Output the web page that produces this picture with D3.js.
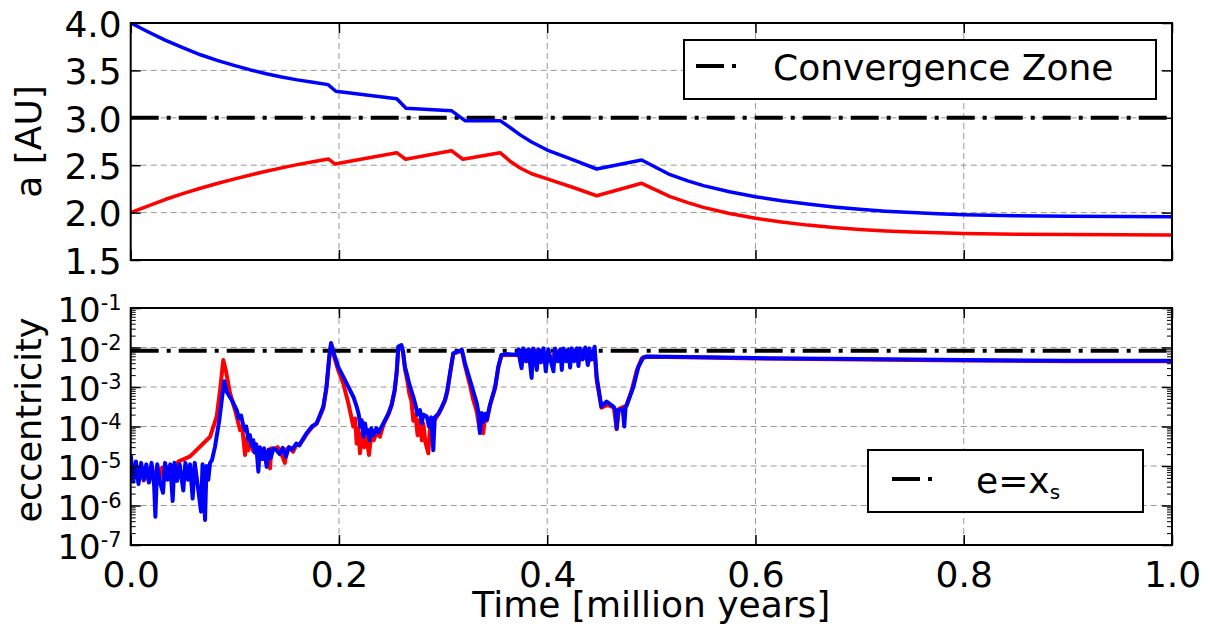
<!DOCTYPE html>
<html><head><meta charset="utf-8">
<script src="https://cdn.jsdelivr.net/npm/d3@7"></script>
<style>
body{margin:0;background:#fff;}
text{font-family:"DejaVu Sans",sans-serif;fill:#000;}
</style>
</head><body>
<svg id="chart" width="1213" height="632"></svg>
<script>
// ---------------- data ----------------
const xTickValues = [0.0, 0.2, 0.4, 0.6, 0.8, 1.0];
const aTickValues = [1.5, 2.0, 2.5, 3.0, 3.5, 4.0];
const eTickExponents = [-7, -6, -5, -4, -3, -2, -1];
const xLabel = "Time [million years]";
const aLabel = "a [AU]";
const eLabel = "eccentricity";
const convergenceA = 3.0;
const convergenceLabel = "Convergence Zone";
const eXs = 8.3e-3;

// semi-major axis, outer (blue) and inner (red) planet
const timeOuterA = [0, 0.017, 0.033, 0.05, 0.067, 0.083, 0.1, 0.115, 0.13, 0.145, 0.16, 0.175, 0.1895, 0.197, 0.2555, 0.2644, 0.308, 0.321, 0.3547, 0.364, 0.374, 0.385, 0.4, 0.425, 0.4475, 0.4907, 0.518, 0.535, 0.55, 0.575, 0.6, 0.625, 0.65, 0.675, 0.7, 0.725, 0.75, 0.775, 0.8, 0.85, 0.9, 1.0];
const aOuter     = [4.0, 3.905, 3.82, 3.74, 3.665, 3.605, 3.55, 3.505, 3.465, 3.43, 3.40, 3.375, 3.35, 3.28, 3.20, 3.10, 3.075, 2.97, 2.97, 2.90, 2.82, 2.745, 2.66, 2.555, 2.46, 2.555, 2.40, 2.335, 2.285, 2.22, 2.168, 2.125, 2.09, 2.06, 2.035, 2.015, 2.0, 1.988, 1.978, 1.967, 1.961, 1.957];
const timeInnerA = [0, 0.017, 0.033, 0.05, 0.067, 0.083, 0.1, 0.115, 0.13, 0.145, 0.16, 0.175, 0.19, 0.196, 0.2555, 0.264, 0.308, 0.319, 0.3547, 0.364, 0.374, 0.385, 0.4, 0.425, 0.4475, 0.4907, 0.518, 0.535, 0.55, 0.575, 0.6, 0.625, 0.65, 0.675, 0.7, 0.725, 0.75, 0.8, 0.85, 0.9, 1.0];
const aInner     = [2.0, 2.072, 2.138, 2.20, 2.257, 2.307, 2.356, 2.397, 2.436, 2.472, 2.506, 2.537, 2.565, 2.513, 2.632, 2.563, 2.653, 2.563, 2.632, 2.545, 2.47, 2.41, 2.355, 2.265, 2.178, 2.309, 2.168, 2.105, 2.055, 1.99, 1.94, 1.90, 1.868, 1.843, 1.823, 1.807, 1.795, 1.78, 1.772, 1.768, 1.765];

// eccentricity [time, e]
const eccInner = [
[0,1.0e-5],[0.0025,4.5e-6],[0.005,9e-6],[0.0075,4e-6],[0.01,9e-6],[0.0125,4.3e-6],[0.015,9e-6],[0.0175,4e-6],
[0.02,9e-6],[0.0225,4.2e-6],[0.025,9e-6],[0.0275,4.5e-6],[0.03,9e-6],[0.0325,4.5e-6],[0.035,9.5e-6],[0.0375,5e-6],
[0.04,1.0e-5],[0.0425,7e-6],[0.0457,1.3e-5],[0.05,1.45e-5],[0.057,1.75e-5],[0.0666,3.1e-5],[0.0762,5.5e-5],
[0.0826,1.8e-4],[0.0858,8.3e-4],[0.0889,4.8e-3],[0.0915,2.5e-3],[0.0954,7e-4],[0.1002,2.6e-4],[0.105,8.1e-5],
[0.107,1.0e-4],[0.1098,1.9e-5],[0.1115,5e-5],[0.113,2.5e-5],[0.1155,4.2e-5],[0.1177,2.4e-5],[0.12,3.6e-5],
[0.1226,2.0e-5],[0.125,2.5e-5],[0.128,1.5e-5],[0.1306,2.3e-5],[0.1338,8.7e-6],[0.135,2.8e-5],[0.138,2.7e-5],
[0.141,3.0e-5],[0.144,2.3e-5],[0.148,1.2e-5],[0.15,2.7e-5],[0.153,2.9e-5],[0.156,2.3e-5],[0.159,3.4e-5],
[0.162,3.5e-5],[0.165,4.4e-5],[0.169,6.5e-5],[0.174,9.5e-5],[0.1786,1.2e-4],[0.182,1.9e-4],[0.185,3.0e-4],
[0.188,9.5e-4],[0.1907,5.5e-3],[0.1924,1.2e-2],[0.1935,9.5e-3],[0.1952,6e-3],[0.1994,2.6e-3],[0.2042,1.2e-3],
[0.209,3.9e-4],[0.2138,1.0e-4],[0.2155,1.6e-4],[0.217,3.7e-5],[0.2185,9e-5],[0.2202,2.1e-5],[0.2225,7e-5],
[0.2245,3e-5],[0.2265,6e-5],[0.2288,1.9e-5],[0.231,6e-5],[0.2335,4.5e-5],[0.236,7e-5],[0.2394,5.5e-5],
[0.2426,1.1e-4],[0.2474,2.0e-4],[0.2505,3.4e-4],[0.2535,8e-4],[0.2555,2.4e-3],[0.257,1.0e-2],[0.26,1.1e-2],
[0.2615,7.5e-3],[0.2634,2.8e-3],[0.2655,1.5e-3],[0.2675,7e-4],[0.2695,4.5e-4],[0.2714,1.4e-4],[0.2735,2e-4],
[0.2755,6e-5],[0.2778,1.5e-4],[0.2795,4.5e-5],[0.281,1.2e-4],[0.283,4e-5],[0.2858,2.1e-5],[0.2875,1.0e-4],
[0.2895,1.2e-4],[0.292,1.5e-4],[0.2954,2.0e-4],[0.2985,2.9e-4],[0.3018,4.5e-4],[0.304,7.5e-4],[0.3066,2.1e-3],
[0.3098,7e-3],[0.3146,7.8e-3],[0.318,8.4e-3],[0.3195,5.5e-3],[0.321,3.5e-3],[0.3258,1.1e-3],[0.329,4.7e-4],
[0.3323,2.4e-4],[0.3354,7.5e-5],[0.3386,6.8e-5],[0.3403,1.9e-4],[0.342,1.4e-4],[0.345,3.4e-4],[0.35,9.5e-4],
[0.353,3.1e-3],[0.356,6.4e-3],[0.371,6.5e-3],[0.38,4.5e-3],[0.39,8e-3],[0.40,4.5e-3],[0.41,8e-3],[0.42,4.5e-3],
[0.43,8e-3],[0.44,4.5e-3],[0.4455,8e-3],[0.4475,1.5e-3],[0.452,3.0e-4],[0.458,3.5e-4],[0.464,3.0e-4],
[0.4667,8.5e-5],[0.469,2.8e-4],[0.4763,3.4e-4],[0.481,8e-4],[0.486,2.6e-3],[0.4907,5.3e-3],[0.4955,5.8e-3],
[0.55,5.6e-3],[0.6,5.3e-3],[0.7,5.0e-3],[0.8,4.7e-3],[0.9,4.5e-3],[1.0,4.5e-3]
];
const eccOuter = [
[0,2.0e-5],[0.0025,4.0e-6],[0.005,1.3e-5],[0.0075,3.5e-6],[0.01,1.2e-5],[0.0125,4.5e-6],[0.015,1.1e-5],
[0.0175,3.8e-6],[0.02,1.2e-5],[0.0225,3.2e-6],[0.0237,5.2e-7],[0.0255,1.1e-5],[0.028,4.0e-6],[0.031,2.1e-6],
[0.033,1.2e-5],[0.0355,4.5e-6],[0.038,1.1e-5],[0.0403,1.3e-6],[0.042,1.2e-5],[0.0445,4.2e-6],[0.047,1.1e-5],
[0.0505,2.4e-6],[0.0525,1.2e-5],[0.055,4.5e-6],[0.057,1.1e-5],[0.0595,1.5e-6],[0.0615,1.2e-5],[0.064,3.8e-6],
[0.0675,7.0e-7],[0.069,1.1e-5],[0.0714,4.3e-7],[0.0728,1.0e-5],[0.0745,4.5e-6],[0.0762,1.2e-5],[0.078,1.4e-5],
[0.081,3.1e-5],[0.0851,1.45e-4],[0.0883,7e-4],[0.0899,1.4e-3],[0.0922,7.6e-4],[0.097,4.7e-4],[0.1018,2.6e-4],
[0.104,1.6e-4],[0.106,1.9e-4],[0.108,1.1e-4],[0.11,8e-5],[0.111,1.0e-4],[0.113,4.6e-5],[0.1145,6e-5],
[0.116,3.2e-5],[0.1177,4.5e-5],[0.119,2.2e-5],[0.1205,3.5e-5],[0.1226,7.2e-6],[0.124,3.0e-5],[0.126,1.5e-5],
[0.128,2.8e-5],[0.1306,9.5e-6],[0.1325,2.6e-5],[0.1345,1.6e-5],[0.137,2.8e-5],[0.14,2.5e-5],[0.143,2.0e-5],
[0.146,2.9e-5],[0.149,1.7e-5],[0.152,3.0e-5],[0.155,2.6e-5],[0.159,3.7e-5],[0.162,3.3e-5],[0.165,4.6e-5],
[0.169,6.8e-5],[0.174,1.0e-4],[0.1786,1.2e-4],[0.182,2.0e-4],[0.185,3.2e-4],[0.188,1.0e-3],[0.1907,5.9e-3],
[0.1924,1.3e-2],[0.1935,1.0e-2],[0.1952,7.0e-3],[0.1994,3.2e-3],[0.2042,1.8e-3],[0.2106,8.3e-4],[0.214,5.5e-4],
[0.217,3.2e-4],[0.219,2.0e-4],[0.2205,1.0e-4],[0.2218,1.45e-4],[0.2235,5.5e-5],[0.225,1.2e-4],[0.2265,7e-5],
[0.228,8.1e-5],[0.2295,4.5e-5],[0.231,9e-5],[0.233,6e-5],[0.236,9.1e-5],[0.238,7e-5],[0.2426,1.2e-4],
[0.2474,2.1e-4],[0.2505,3.5e-4],[0.2535,8.3e-4],[0.2555,2.5e-3],[0.257,1.05e-2],[0.26,1.15e-2],[0.2615,8e-3],
[0.2634,3.2e-3],[0.2655,2.0e-3],[0.2675,1.2e-3],[0.2695,8e-4],[0.2714,5.6e-4],[0.2735,3.5e-4],[0.2755,2.0e-4],
[0.2778,2.6e-4],[0.2795,1.2e-4],[0.281,2.0e-4],[0.2843,1.8e-4],[0.2865,1.0e-4],[0.2885,1.7e-4],[0.2906,2.5e-5],
[0.292,1.7e-4],[0.2954,2.1e-4],[0.2985,3.0e-4],[0.3018,4.7e-4],[0.304,8e-4],[0.3066,2.2e-3],[0.3098,7.1e-3],
[0.3146,8.0e-3],[0.318,8.7e-3],[0.3195,6e-3],[0.321,4.0e-3],[0.3258,1.5e-3],[0.3323,3.9e-4],[0.334,2.2e-4],
[0.3354,6.8e-5],[0.337,2.2e-4],[0.3386,1.3e-4],[0.3403,2.1e-4],[0.342,1.5e-4],[0.345,3.5e-4],[0.35,1.0e-3],
[0.353,3.2e-3],[0.356,6.5e-3],[0.361,6.8e-3],[0.371,6.6e-3],
[0.3725,9.0e-3],[0.374,4.5e-3],[0.3754,3.0e-3],[0.377,9.5e-3],[0.3795,4.5e-3],[0.382,9.0e-3],[0.3835,4.0e-3],
[0.385,1.7e-3],[0.3865,9.5e-3],[0.389,4.5e-3],[0.39,2.7e-3],[0.3915,9.0e-3],[0.394,4.2e-3],[0.3965,9.5e-3],
[0.3986,2.5e-3],[0.401,9.0e-3],[0.4035,4.5e-3],[0.406,2.5e-3],[0.4075,9.5e-3],[0.41,4.5e-3],[0.4125,9.0e-3],
[0.414,2.7e-3],[0.4155,9.5e-3],[0.418,4.5e-3],[0.4205,9.0e-3],[0.422,3.1e-3],[0.4235,9.5e-3],[0.426,4.5e-3],
[0.4285,9.5e-3],[0.43,3.4e-3],[0.4315,9.5e-3],[0.434,5.0e-3],[0.4365,1.0e-2],[0.439,3.6e-3],[0.4405,9.5e-3],
[0.443,5.0e-3],[0.4455,1.05e-2],[0.4475,1.8e-3],[0.452,3.2e-4],[0.4571,4.3e-4],[0.4635,3.2e-4],[0.4655,2.6e-4],
[0.4667,8.9e-5],[0.468,2.6e-4],[0.4725,2.8e-4],[0.474,1.0e-4],[0.4752,3.0e-4],[0.4763,3.5e-4],[0.4827,1.0e-3],
[0.4875,3.2e-3],[0.4923,5.6e-3],[0.4955,5.9e-3],[0.55,5.7e-3],[0.6,5.4e-3],[0.7,5.1e-3],[0.8,4.8e-3],
[0.9,4.6e-3],[1.0,4.6e-3]
];

// ---------------- layout ----------------
const svg = d3.select("#chart");
const X0 = 130.7, X1 = 1172;
const topP = {y0: 23, y1: 260};
const botP = {y0: 308, y1: 545};
const FONT = 36;
const RED = "#ff0000", BLUE = "#0000ff";
const DASHDOT = "28,8,4,8";

const x  = d3.scaleLinear().domain([0, 1]).range([X0, X1]);
const yA = d3.scaleLinear().domain([1.5, 4.0]).range([topP.y1, topP.y0]);
const yE = d3.scaleLog().domain([1e-7, 1e-1]).range([botP.y1, botP.y0]);

const defs = svg.append("defs");
[["clipTop", topP], ["clipBot", botP]].forEach(([id, p]) => {
  defs.append("clipPath").attr("id", id).append("rect")
    .attr("x", X0).attr("y", p.y0).attr("width", X1 - X0).attr("height", p.y1 - p.y0);
});

function grid(p, yScale, yVals) {
  const g = svg.append("g").attr("stroke", "#999").attr("stroke-width", 1)
    .attr("stroke-dasharray", "6,4").attr("fill", "none");
  g.selectAll(".gv").data(xTickValues.slice(1, -1)).join("line")
    .attr("x1", d => x(d)).attr("x2", d => x(d)).attr("y1", p.y0).attr("y2", p.y1);
  g.selectAll(".gh").data(yVals).join("line")
    .attr("x1", X0).attr("x2", X1).attr("y1", d => yScale(d)).attr("y2", d => yScale(d));
}
grid(topP, yA, aTickValues.slice(1, -1));
const eMajor = eTickExponents.map(k => Math.pow(10, k));
grid(botP, yE, eMajor.slice(1, -1));

// ---------------- top panel ----------------
const gTop = svg.append("g").attr("clip-path", "url(#clipTop)");
gTop.append("line").attr("x1", X0).attr("x2", X1)
  .attr("y1", yA(convergenceA)).attr("y2", yA(convergenceA))
  .attr("stroke", "#000").attr("stroke-width", 4).attr("stroke-dasharray", DASHDOT);
const lineA = d3.line().x(d => x(d[0])).y(d => yA(d[1]));
gTop.append("path").datum(d3.zip(timeInnerA, aInner)).attr("d", lineA)
  .attr("fill", "none").attr("stroke", RED).attr("stroke-width", 3.5).attr("stroke-linejoin", "round");
gTop.append("path").datum(d3.zip(timeOuterA, aOuter)).attr("d", lineA)
  .attr("fill", "none").attr("stroke", BLUE).attr("stroke-width", 3.5).attr("stroke-linejoin", "round");

// ---------------- bottom panel ----------------
const gBot = svg.append("g").attr("clip-path", "url(#clipBot)");
gBot.append("line").attr("x1", X0).attr("x2", X1)
  .attr("y1", yE(eXs)).attr("y2", yE(eXs))
  .attr("stroke", "#000").attr("stroke-width", 4).attr("stroke-dasharray", DASHDOT);
const lineE = d3.line().x(d => x(d[0])).y(d => yE(d[1]));
gBot.append("path").datum(eccInner).attr("d", lineE)
  .attr("fill", "none").attr("stroke", RED).attr("stroke-width", 4).attr("stroke-linejoin", "round");
gBot.append("path").datum(eccOuter).attr("d", lineE)
  .attr("fill", "none").attr("stroke", BLUE).attr("stroke-width", 4).attr("stroke-linejoin", "round");

// ---------------- axes ----------------
function styleAxis(g) {
  g.select(".domain").remove();
  g.selectAll(".tick line").attr("stroke", "#000").attr("stroke-width", 1.5);
  g.selectAll("text").attr("font-size", FONT).attr("font-family", "DejaVu Sans").attr("fill", "#000");
  return g;
}
// top panel
styleAxis(svg.append("g").attr("transform", `translate(${X0},0)`)
  .call(d3.axisLeft(yA).tickValues(aTickValues).tickFormat(d3.format(".1f")).tickSize(-10).tickSizeOuter(0).tickPadding(9)))
  .selectAll("text").attr("dy", "0.37em");
styleAxis(svg.append("g").attr("transform", `translate(${X1},0)`)
  .call(d3.axisRight(yA).tickValues(aTickValues).tickFormat("").tickSize(-10).tickSizeOuter(0)));
styleAxis(svg.append("g").attr("transform", `translate(0,${topP.y0})`)
  .call(d3.axisTop(x).tickValues(xTickValues).tickFormat("").tickSize(-10).tickSizeOuter(0)));
styleAxis(svg.append("g").attr("transform", `translate(0,${topP.y1})`)
  .call(d3.axisBottom(x).tickValues(xTickValues).tickFormat("").tickSize(-10).tickSizeOuter(0)));

// bottom panel
const minorE = [];
eTickExponents.slice(0, -1).forEach(k => { for (let m = 2; m <= 9; m++) minorE.push(m * Math.pow(10, k)); });
const gEL = styleAxis(svg.append("g").attr("transform", `translate(${X0},0)`)
  .call(d3.axisLeft(yE).tickValues(eMajor).tickFormat("").tickSize(-10).tickSizeOuter(0).tickPadding(9)));
gEL.selectAll(".tick text").each(function(d) {
  const t = d3.select(this).text(null).attr("dy", null).attr("y", 13.5).attr("x", -9);
  t.append("tspan").attr("font-size", 34).text("10");
  t.append("tspan").attr("font-size", 21).attr("dy", -12).text(String(Math.round(Math.log10(d))));
});
styleAxis(svg.append("g").attr("transform", `translate(${X0},0)`)
  .call(d3.axisLeft(yE).tickValues(minorE).tickFormat("").tickSize(-5).tickSizeOuter(0)))
  .selectAll(".tick line").attr("stroke-width", 1);
styleAxis(svg.append("g").attr("transform", `translate(${X1},0)`)
  .call(d3.axisRight(yE).tickValues(eMajor).tickFormat("").tickSize(-10).tickSizeOuter(0)));
styleAxis(svg.append("g").attr("transform", `translate(${X1},0)`)
  .call(d3.axisRight(yE).tickValues(minorE).tickFormat("").tickSize(-5).tickSizeOuter(0)))
  .selectAll(".tick line").attr("stroke-width", 1);
styleAxis(svg.append("g").attr("transform", `translate(0,${botP.y0})`)
  .call(d3.axisTop(x).tickValues(xTickValues).tickFormat("").tickSize(-10).tickSizeOuter(0)));
styleAxis(svg.append("g").attr("transform", `translate(0,${botP.y1})`)
  .call(d3.axisBottom(x).tickValues(xTickValues).tickFormat(d3.format(".1f")).tickSize(-10).tickSizeOuter(0).tickPadding(16)));

// spines
[topP, botP].forEach(p => {
  svg.append("rect").attr("x", X0).attr("y", p.y0).attr("width", X1 - X0).attr("height", p.y1 - p.y0)
    .attr("fill", "none").attr("stroke", "#000").attr("stroke-width", 2);
});

// axis labels
svg.append("text").attr("x", (X0 + X1) / 2).attr("y", 617).attr("text-anchor", "middle")
  .attr("font-size", FONT).text(xLabel);
svg.append("text").attr("transform", `translate(41,${(topP.y0 + topP.y1) / 2}) rotate(-90)`)
  .attr("text-anchor", "middle").attr("font-size", FONT).text(aLabel);
svg.append("text").attr("transform", `translate(41,420) rotate(-90)`)
  .attr("text-anchor", "middle").attr("font-size", 35).text(eLabel);

// legends
function legend(bx, by, bw, bh, lx, ly, tx, ty, build) {
  const g = svg.append("g");
  g.append("rect").attr("x", bx).attr("y", by).attr("width", bw).attr("height", bh)
    .attr("fill", "#fff").attr("stroke", "#000").attr("stroke-width", 2);
  g.append("line").attr("x1", lx).attr("x2", lx + 40).attr("y1", ly).attr("y2", ly)
    .attr("stroke", "#000").attr("stroke-width", 4).attr("stroke-dasharray", DASHDOT);
  const t = g.append("text").attr("x", tx).attr("y", ty).attr("font-size", FONT);
  build(t);
}
legend(684, 40, 472, 59, 696, 66, 773, 80, t => t.text(convergenceLabel));
legend(868, 450, 275, 62, 892, 479, 976, 493, t => {
  t.append("tspan").text("e=x");
  t.append("tspan").attr("font-size", 20).attr("dy", 6).text("s");
});
</script>
</body></html>
